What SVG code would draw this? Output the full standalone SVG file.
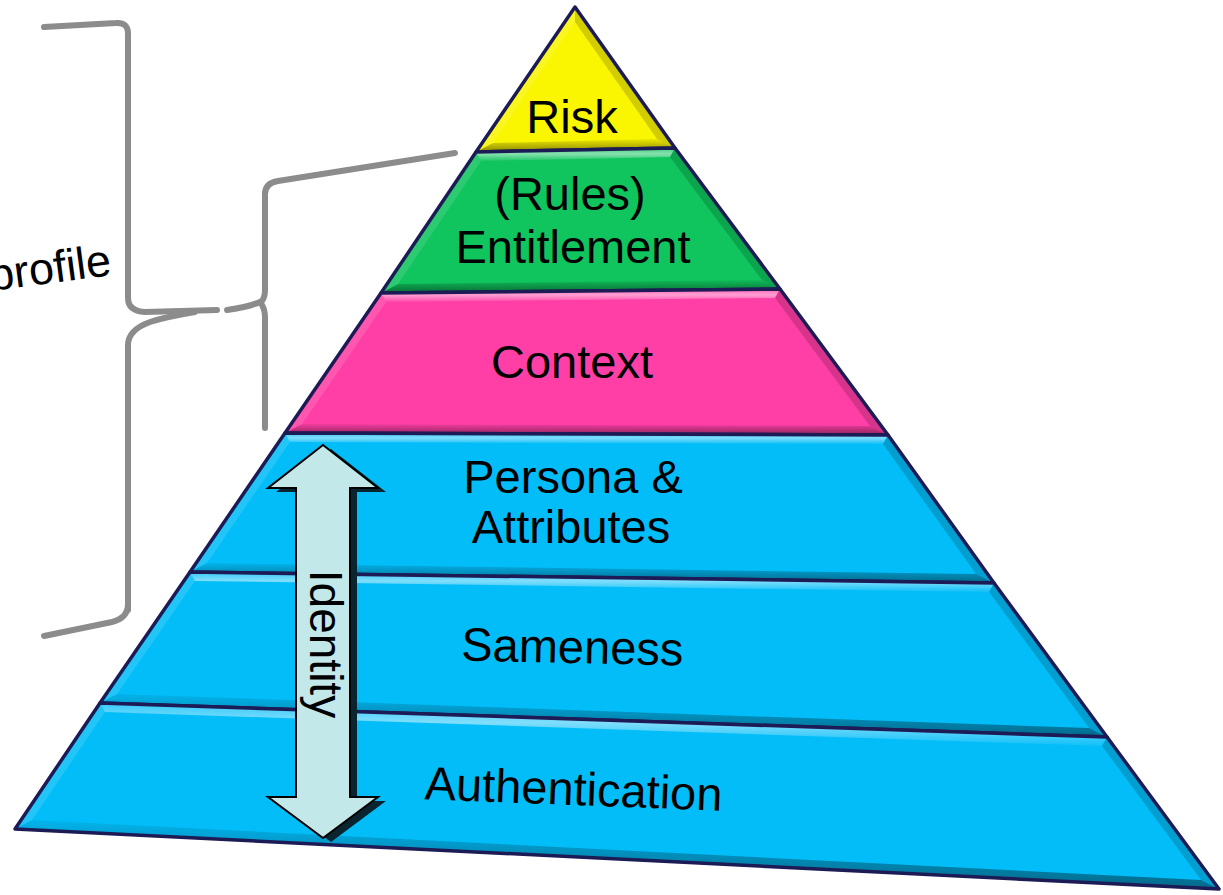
<svg xmlns="http://www.w3.org/2000/svg" width="1223" height="895" viewBox="0 0 1223 895">
<defs>
<linearGradient id="gTop" x1="0" y1="0" x2="0" y2="1"><stop offset="0" stop-color="#fff" stop-opacity="0.2"/><stop offset="0.45" stop-color="#fff" stop-opacity="0.5"/><stop offset="1" stop-color="#fff" stop-opacity="0.05"/></linearGradient>
<linearGradient id="gBot" x1="0" y1="0" x2="0" y2="1"><stop offset="0" stop-color="#000" stop-opacity="0.05"/><stop offset="1" stop-color="#000" stop-opacity="0.45"/></linearGradient>
</defs>
<style>
.lbl{font-family:"Liberation Sans",Arial,sans-serif;font-size:47px;fill:#000;text-anchor:middle}
.edge{fill:none;stroke:#1d1b55;stroke-width:3.5;stroke-linejoin:round}
.top{fill:url(#gTop)}
.bot{fill:url(#gBot)}
.lft{fill:#fff;opacity:0.12}
.rgt{fill:#000;opacity:0.16}
.brace{fill:none;stroke:#8c8c8c;stroke-width:6;stroke-linecap:round;stroke-linejoin:round}
.yel{fill:#FAF500}.grn{fill:#10C45E}.pnk{fill:#FF3FA6}.cyn{fill:#03BDF8}
</style>
<rect width="1223" height="895" fill="#fff"/>

<g id="risk">
<polygon class="yel" points="575,7 675,148 476,152"/>
<polygon class="lft" points="575,7 575,22 493,143 476,152"/>
<polygon class="rgt" points="575,7 675,148 657,139 575,22"/>
<polygon class="bot" points="493,143 657,139 675,148 476,152"/>
<polygon class="edge" points="575,7 675,148 476,152"/>
<text class="lbl" x="572" y="133">Risk</text>
</g>

<g id="entitlement">
<polygon class="grn" points="476,152 675,148 780,289 381,293"/>
<polygon class="top" points="476,152 675,148 670,157 481,161"/>
<polygon class="rgt" points="675,148 780,289 762,280 670,157"/>
<polygon class="bot" points="398,284 762,280 780,289 381,293"/>
<polygon class="lft" points="476,152 481,161 398,284 381,293"/>
<polygon class="edge" points="476,152 675,148 780,289 381,293"/>
<text class="lbl" x="570" y="210">(Rules)</text>
<text class="lbl" x="573" y="263">Entitlement</text>
</g>

<g id="context">
<polygon class="pnk" points="381,293 780,289 888,435 285,433"/>
<polygon class="top" points="381,293 780,289 775,298 386,302"/>
<polygon class="rgt" points="780,289 888,435 870,426 775,298"/>
<polygon class="bot" points="302,424 870,426 888,435 285,433"/>
<polygon class="lft" points="381,293 386,302 302,424 285,433"/>
<polygon class="edge" points="381,293 780,289 888,435 285,433"/>
<text class="lbl" x="572" y="378">Context</text>
</g>

<g id="persona">
<polygon class="cyn" points="285,433 888,435 994,583 190,572"/>
<polygon class="top" points="285,433 888,435 883,444 290,442"/>
<polygon class="rgt" points="888,435 994,583 976,574 883,444"/>
<polygon class="bot" points="207,563 976,574 994,583 190,572"/>
<polygon class="lft" points="285,433 290,442 207,563 190,572"/>
<polygon class="edge" points="285,433 888,435 994,583 190,572"/>
<text class="lbl" x="573" y="493">Persona &amp;</text>
<text class="lbl" x="571" y="543">Attributes</text>
</g>

<g id="sameness">
<polygon class="cyn" points="190,572 994,583 1107,737 100,703"/>
<polygon class="top" points="190,572 994,583 989,592 195,581"/>
<polygon class="rgt" points="994,583 1107,737 1089,728 989,592"/>
<polygon class="bot" points="117,694 1089,728 1107,737 100,703"/>
<polygon class="lft" points="190,572 195,581 117,694 100,703"/>
<polygon class="edge" points="190,572 994,583 1107,737 100,703"/>
<text class="lbl" x="572" y="663" transform="rotate(1.3 572 663)">Sameness</text>
</g>

<g id="authentication">
<polygon class="cyn" points="100,703 1107,737 1219,889 15,829"/>
<polygon class="top" points="100,703 1107,737 1102,746 105,712"/>
<polygon class="rgt" points="1107,737 1219,889 1201,880 1102,746"/>
<polygon class="bot" points="32,820 1201,880 1219,889 15,829"/>
<polygon class="lft" points="100,703 105,712 32,820 15,829"/>
<polygon class="edge" points="100,703 1107,737 1219,889 15,829"/>
<text class="lbl" x="573" y="805" transform="rotate(2.2 573 805)">Authentication</text>
</g>

<g id="identity">
<polygon fill="#0b2530" points="331,449 386,492 357,492 357,801 386,801 331,842 276,801 304,801 304,492 276,492"/>
<polygon fill="#C3E8EA" stroke="#000" stroke-width="2" stroke-linejoin="miter" points="323,445 378,488 350,488 350,797 378,797 323,838 268,797 296,797 296,488 268,488"/>
<text class="lbl" transform="translate(310 644) rotate(90)" style="font-size:46px">Identity</text>
</g>

<g id="profile-label">
<text x="-9" y="291" transform="rotate(-7.5 -9 291)" style="font-family:'Liberation Sans',Arial,sans-serif;font-size:45px;fill:#000">profile</text>
</g>

<g id="connectors">
<path class="brace" d="M44,27 L116,23 Q128,22 128,34 L128,298 Q128,311 145,312 L217,310"/>
<path class="brace" d="M128,610 L128,345 Q128,330 150,322 Q165,317 195,312"/>
<path class="brace" d="M128,604 Q128,618 112,622 L44,636"/>
<path class="brace" d="M227,310 Q250,307 262,301 Q265,297 265,290 L265,194 Q265,183 278,181 L455,153"/>
<path class="brace" d="M262,305 Q265,310 265,318 L265,428"/>
</g>
</svg>
